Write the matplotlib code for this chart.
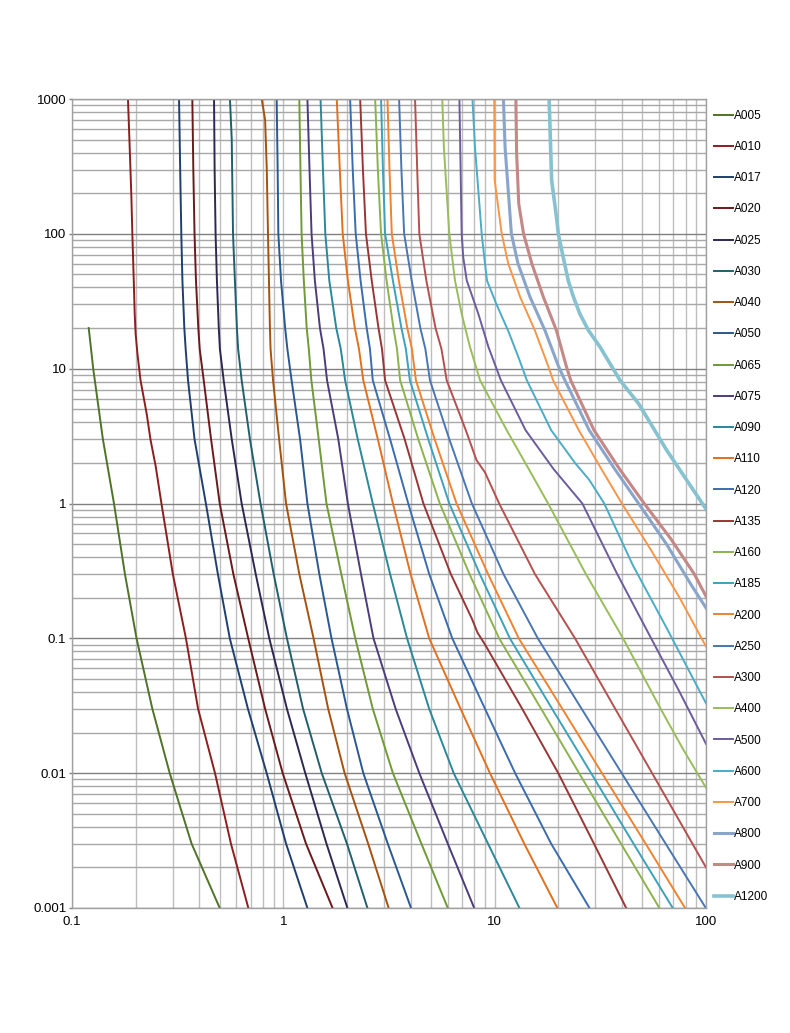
import matplotlib.pyplot as plt
from matplotlib.ticker import LogLocator, NullFormatter, FixedLocator, FixedFormatter

plt.rcParams['font.family'] = ['Liberation Sans', 'DejaVu Sans']

# time-current data, current (x) and time (y) for every fuse link
A005_I = [0.120, 0.126, 0.140, 0.158, 0.178, 0.202, 0.240, 0.290, 0.368, 0.50]
A005_t = [20, 10, 3, 1, 0.3, 0.1, 0.03, 0.01, 0.003, 0.001]

A010_I = [0.184, 0.1875, 0.191, 0.193, 0.196, 0.198, 0.200, 0.204, 0.211, 0.226, 0.235, 0.249, 0.265,
          0.300, 0.346, 0.395, 0.475, 0.565, 0.683]
A010_t = [1000, 438, 187, 100, 45, 25.5, 18.2, 12.9, 8.2, 4.56, 3, 1.88, 1,
          0.3, 0.1, 0.03, 0.01, 0.003, 0.001]

A017_I = [0.321, 0.325, 0.329, 0.333, 0.340, 0.345, 0.354, 0.380, 0.430, 0.490, 0.558, 0.680, 0.834, 1.03, 1.30]
A017_t = [1000, 300, 100, 45, 20, 14, 8.2, 3, 1, 0.3, 0.1, 0.03, 0.01, 0.003, 0.001]

A020_I = [0.371, 0.375, 0.380, 0.386, 0.396, 0.402, 0.420, 0.455, 0.500, 0.580, 0.682, 0.820, 0.993, 1.28, 1.71]
A020_t = [1000, 300, 100, 45, 20, 14, 8.2, 3, 1, 0.3, 0.1, 0.03, 0.01, 0.003, 0.001]

A025_I = [0.470, 0.473, 0.478, 0.485, 0.495, 0.501, 0.522, 0.570, 0.635, 0.740, 0.858, 1.04, 1.27, 1.60, 2.01]
A025_t = [1000, 300, 100, 45, 20, 14, 8.2, 3, 1, 0.3, 0.1, 0.03, 0.01, 0.003, 0.001]

A030_I = [0.559, 0.570, 0.578, 0.590, 0.603, 0.611, 0.635, 0.695, 0.780, 0.900, 1.04, 1.24, 1.52, 2.00, 2.50]
A030_t = [1000, 500, 100, 45, 20, 14, 8.2, 3, 1, 0.3, 0.1, 0.03, 0.01, 0.003, 0.001]

A040_I = [0.790, 0.820, 0.835, 0.846, 0.855, 0.864, 0.870, 0.894, 0.955, 1.03, 1.19, 1.39, 1.63, 1.95, 2.52, 3.15]
A040_t = [1000, 700, 300, 100, 45, 20, 14, 8.2, 3, 1, 0.3, 0.1, 0.03, 0.01, 0.003, 0.001]

A050_I = [0.930, 0.940, 0.947, 0.975, 1.02, 1.045, 1.094, 1.20, 1.30, 1.48, 1.69, 2.00, 2.39, 3.12, 4.02]
A050_t = [1000, 300, 100, 45, 20, 14, 8.2, 3, 1, 0.3, 0.1, 0.03, 0.01, 0.003, 0.001]

A065_I = [1.19, 1.205, 1.22, 1.25, 1.29, 1.32, 1.357, 1.47, 1.60, 1.88, 2.19, 2.65, 3.30, 4.50, 6.00]
A065_t = [1000, 300, 100, 45, 20, 14, 8.2, 3, 1, 0.3, 0.1, 0.03, 0.01, 0.003, 0.001]

A075_I = [1.30, 1.33, 1.36, 1.41, 1.49, 1.55, 1.61, 1.82, 2.02, 2.33, 2.67, 3.40, 4.40, 6.00, 8.00]
A075_t = [1000, 300, 100, 45, 20, 14, 8.2, 3, 1, 0.3, 0.1, 0.03, 0.01, 0.003, 0.001]

A090_I = [1.50, 1.54, 1.58, 1.65, 1.78, 1.87, 1.96, 2.25, 2.65, 3.20, 3.85, 4.90, 6.40, 9.30, 13.1]
A090_t = [1000, 300, 100, 45, 20, 14, 8.2, 3, 1, 0.3, 0.1, 0.03, 0.01, 0.003, 0.001]

A110_I = [1.79, 1.85, 1.91, 2.02, 2.18, 2.28, 2.39, 2.80, 3.30, 4.00, 4.90, 6.90, 9.50, 13.8, 19.8]
A110_t = [1000, 300, 100, 45, 20, 14, 8.2, 3, 1, 0.3, 0.1, 0.03, 0.01, 0.003, 0.001]

A120_I = [2.07, 2.13, 2.20, 2.32, 2.48, 2.57, 2.65, 3.20, 3.90, 4.90, 6.30, 9.00, 12.5, 18.5, 28.1]
A120_t = [1000, 300, 100, 45, 20, 14, 8.2, 3, 1, 0.3, 0.1, 0.03, 0.01, 0.003, 0.001]

A135_I = [2.31, 2.38, 2.46, 2.62, 2.82, 2.93, 3.03, 3.75, 4.60, 6.20, 7.80, 8.30, 9.00, 13.5, 20.0, 29.5, 41.9]
A135_t = [1000, 300, 100, 45, 20, 14, 8.2, 3, 1, 0.3, 0.14, 0.11, 0.09, 0.03, 0.01, 0.003, 0.001]

A160_I = [2.72, 2.80, 2.90, 3.08, 3.32, 3.45, 3.57, 4.35, 5.50, 7.60, 10.5, 16.6, 25.1, 39.6, 60.2]
A160_t = [1000, 300, 100, 45, 20, 14, 8.2, 3, 1, 0.3, 0.1, 0.03, 0.01, 0.003, 0.001]

A185_I = [2.90, 2.96, 3.03, 3.30, 3.62, 3.80, 3.97, 4.85, 6.10, 8.50, 11.8, 18.7, 28.6, 45.4, 69.6]
A185_t = [1000, 300, 100, 45, 20, 14, 8.2, 3, 1, 0.3, 0.1, 0.03, 0.01, 0.003, 0.001]

A200_I = [3.11, 3.18, 3.26, 3.52, 3.86, 4.06, 4.24, 5.20, 6.60, 9.30, 13.0, 20.9, 32.2, 51.8, 79.6]
A200_t = [1000, 300, 100, 45, 20, 14, 8.2, 3, 1, 0.3, 0.1, 0.03, 0.01, 0.003, 0.001]

A250_I = [3.53, 3.62, 3.73, 4.05, 4.45, 4.70, 4.94, 6.10, 7.80, 11.0, 16.0, 25.8, 39.9, 64.4, 99.8]
A250_t = [1000, 300, 100, 45, 20, 14, 8.2, 3, 1, 0.3, 0.1, 0.03, 0.01, 0.003, 0.001]

A300_I = [4.20, 4.30, 4.40, 4.75, 5.25, 5.60, 5.93, 7.30, 8.20, 9.00, 10.5, 15.5, 24.0, 37.2, 55.6, 71.6, 100]
A300_t = [1000, 300, 100, 45, 20, 14, 8.2, 3.5, 2.1, 1.7, 1, 0.3, 0.1, 0.03, 0.01, 0.005, 0.002]

A400_I = [5.65, 5.75, 6.10, 6.49, 6.98, 7.64, 8.53, 11.4, 14.5, 17.9, 27.0, 40.5, 61.0, 78.0, 100]
A400_t = [1000, 438, 100, 45, 25.5, 14.5, 8.2, 3.5, 1.8, 1, 0.3, 0.1, 0.03, 0.015, 0.0078]

A500_I = [6.81, 6.90, 6.98, 7.10, 7.38, 8.37, 9.34, 10.7, 14.0, 19.0, 26.0, 38.0, 55.0, 75.0, 100]
A500_t = [1000, 300, 100, 67, 45, 25.5, 14.5, 8.2, 3.5, 1.8, 1, 0.3, 0.1, 0.04, 0.0165]

A600_I = [7.85, 8.07, 8.68, 9.00, 9.20, 10.2, 11.6, 13.0, 14.2, 18.5, 24.0, 28.0, 33.0, 45.0, 65.0, 100]
A600_t = [1000, 438, 100, 60, 45, 30, 19, 12, 8.2, 3.5, 2.0, 1.5, 1, 0.35, 0.12, 0.033]

A700_I = [9.95, 10.0, 10.8, 11.6, 13.2, 15.5, 17.9, 18.9, 25.0, 32.0, 40.0, 55.0, 75.0, 100]
A700_t = [1000, 250, 100, 60, 34, 19.2, 10.5, 8.2, 3.5, 1.8, 1, 0.45, 0.2, 0.087]

A800_I = [11.0, 11.2, 12.0, 12.9, 14.7, 17.3, 20.0, 21.5, 28.0, 37.0, 48.0, 65.0, 85.0, 100]
A800_t = [1000, 438, 100, 60, 34, 19.2, 10.5, 8.2, 3.5, 1.8, 1, 0.5, 0.25, 0.168]

A900_I = [12.6, 12.7, 13.0, 13.7, 15.0, 17.0, 19.6, 21.8, 22.9, 29.5, 39.0, 51.0, 68.0, 88.0, 100]
A900_t = [1000, 400, 167, 100, 60, 34, 19.2, 10.5, 8.2, 3.5, 1.8, 1, 0.55, 0.3, 0.205]

A1200_I = [18.1, 18.6, 19.7, 20.0, 21.1, 22.3, 23.6, 25.3, 27.8, 31.5, 39.2, 48.0, 65.0, 100]
A1200_t = [1000, 250, 126, 100, 67, 45, 34, 25.5, 19.2, 14.5, 8.2, 5.5, 2.5, 0.91]

series = [
    ('A005', A005_I, A005_t, '#4F7328', 1.4),
    ('A010', A010_I, A010_t, '#8C1E1E', 1.4),
    ('A017', A017_I, A017_t, '#1F3F6E', 1.4),
    ('A020', A020_I, A020_t, '#6A1A1A', 1.4),
    ('A025', A025_I, A025_t, '#2E2752', 1.4),
    ('A030', A030_I, A030_t, '#215F6E', 1.4),
    ('A040', A040_I, A040_t, '#A5520F', 1.4),
    ('A050', A050_I, A050_t, '#2A5890', 1.4),
    ('A065', A065_I, A065_t, '#6F9A36', 1.4),
    ('A075', A075_I, A075_t, '#4D3C7A', 1.4),
    ('A090', A090_I, A090_t, '#2A889A', 1.4),
    ('A110', A110_I, A110_t, '#E2701F', 1.4),
    ('A120', A120_I, A120_t, '#3A6CAE', 1.4),
    ('A135', A135_I, A135_t, '#983636', 1.4),
    ('A160', A160_I, A160_t, '#8CB24E', 1.4),
    ('A185', A185_I, A185_t, '#3CA2B9', 1.4),
    ('A200', A200_I, A200_t, '#F0832F', 1.4),
    ('A250', A250_I, A250_t, '#4A77B2', 1.4),
    ('A300', A300_I, A300_t, '#B4504E', 1.4),
    ('A400', A400_I, A400_t, '#98BD5A', 1.4),
    ('A500', A500_I, A500_t, '#6C5C9C', 1.4),
    ('A600', A600_I, A600_t, '#4BACC6', 1.4),
    ('A700', A700_I, A700_t, '#F79646', 1.4),
    ('A800', A800_I, A800_t, '#8AA5CC', 2.2),
    ('A900', A900_I, A900_t, '#C48887', 2.2),
    ('A1200', A1200_I, A1200_t, '#86C2D0', 2.6),
]

fig = plt.figure(figsize=(7.9, 10.33), dpi=100)
ax = fig.add_axes([72 / 790, 1 - 908 / 1033, (706 - 72) / 790, (908 - 99) / 1033])

for name, xs, ys, col, lw in series:
    ax.plot(xs, ys, color=col, lw=lw, label=name, solid_joinstyle='round')

ax.set_xscale('log')
ax.set_yscale('log')
ax.set_xlim(0.1, 100)
ax.set_ylim(0.001, 1000)

ax.xaxis.set_major_locator(FixedLocator([0.1, 1, 10, 100]))
ax.xaxis.set_major_formatter(FixedFormatter(['0.1', '1', '10', '100']))
ax.yaxis.set_major_locator(FixedLocator([0.001, 0.01, 0.1, 1, 10, 100, 1000]))
ax.yaxis.set_major_formatter(FixedFormatter(['0.001', '0.01', '0.1', '1', '10', '100', '1000']))
ax.xaxis.set_minor_locator(LogLocator(base=10, subs=range(2, 10)))
ax.yaxis.set_minor_locator(LogLocator(base=10, subs=range(2, 10)))
ax.xaxis.set_minor_formatter(NullFormatter())
ax.yaxis.set_minor_formatter(NullFormatter())

ax.grid(True, axis='x', which='both', color='#BEBEBE', lw=1.0)
ax.grid(True, axis='y', which='minor', color='#A8A8A8', lw=1.0)
ax.grid(True, axis='y', which='major', color='#808080', lw=1.0)
ax.set_axisbelow(True)

ax.tick_params(axis='both', which='minor', length=0)
ax.tick_params(axis='x', which='major', length=0, pad=6, labelsize=9.5)
ax.tick_params(axis='y', which='major', length=2.5, width=1, color='#808080', pad=1.5, labelsize=9.5)
for s in ax.spines.values():
    s.set_color('#A0A0A0')
    s.set_linewidth(1.0)

ax.legend(loc='upper left', bbox_to_anchor=(1.0, 0.997), frameon=False,
          fontsize=8.5, handlelength=1.6, handletextpad=0.1,
          labelspacing=1.63, borderaxespad=0.3)

fig.savefig('out.png', dpi=100)
